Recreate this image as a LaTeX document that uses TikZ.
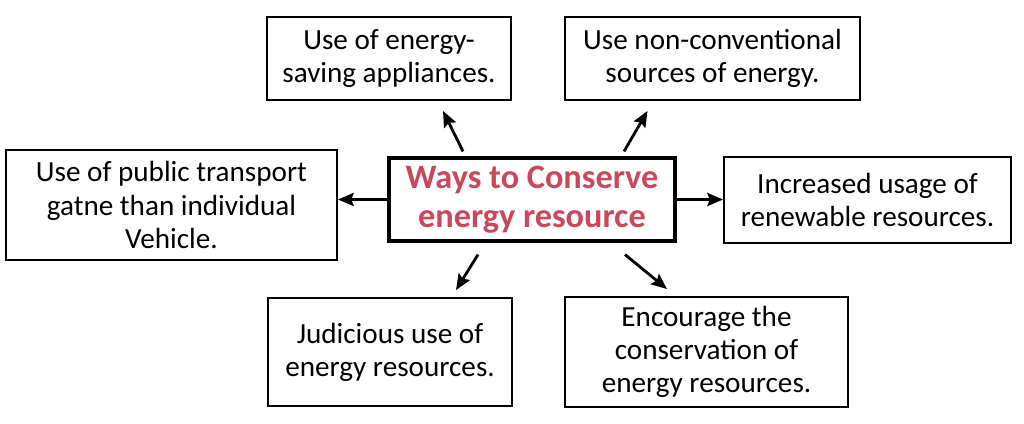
\documentclass[tikz,border=0pt]{standalone}
\usepackage{fontspec}
\setmainfont{Carlito}
\usepackage{tikz}
\usetikzlibrary{arrows.meta, calc}
\definecolor{titlered}{RGB}{201,72,92}

\begin{document}
\begin{tikzpicture}[x=0.02cm, y=-0.02cm,
  box/.style={draw, line width=1.1pt, align=center, inner sep=0pt, font=\fontsize{16.6}{18.9}\selectfont},
  arr/.style={-{Stealth[length=9pt,width=7.5pt,inset=1.5pt]}, line width=1.6pt}]
\useasboundingbox (0,0) rectangle (1024,423);
\node[box, line width=1.8pt, minimum width=5.72cm, minimum height=1.66cm, text=titlered,
  font=\fontsize{19.5}{22.4}\selectfont\bfseries] (ways) at (532,199.5) {Ways to Conserve\\energy resource};
\node[box, minimum width=4.88cm, minimum height=1.66cm] (saving) at (389,58.5) {Use of energy-\\saving appliances.};
\node[box, minimum width=5.9cm, minimum height=1.66cm] (sources) at (712.5,58.5) {Use non-conventional\\sources of energy.};
\node[box, minimum width=6.62cm, minimum height=2.2cm] (transport) at (171.5,205) {Use of public transport\\gatne than individual\\Vehicle.};
\node[box, minimum width=5.74cm, minimum height=1.72cm] (renewable) at (867.5,200) {Increased usage of\\renewable resources.};
\node[box, minimum width=4.88cm, minimum height=2.16cm] (judicious) at (390,352) {Judicious use of\\energy resources.};
\node[box, minimum width=5.66cm, minimum height=2.2cm] (encourage) at (706.5,352) {Encourage the\\conservation of\\energy resources.};
\draw[arr] ($(ways.north)+(-69,-5)$) -- ($(saving.south)+(54,10)$);
\draw[arr] ($(ways.north)+(92,-5)$) -- ($(sources.south)+(-65,10)$);
\draw[arr] (ways.west) -- (ways.west -| transport.east);
\draw[arr] (ways.east) -- (ways.east -| renewable.west);
\draw[arr] ($(ways.south)+(-54,12)$) -- ($(judicious.north)+(66,-7)$);
\draw[arr] ($(ways.south)+(93,12)$) -- ($(encourage.north)+(-39.5,-7)$);
\end{tikzpicture}
\end{document}
